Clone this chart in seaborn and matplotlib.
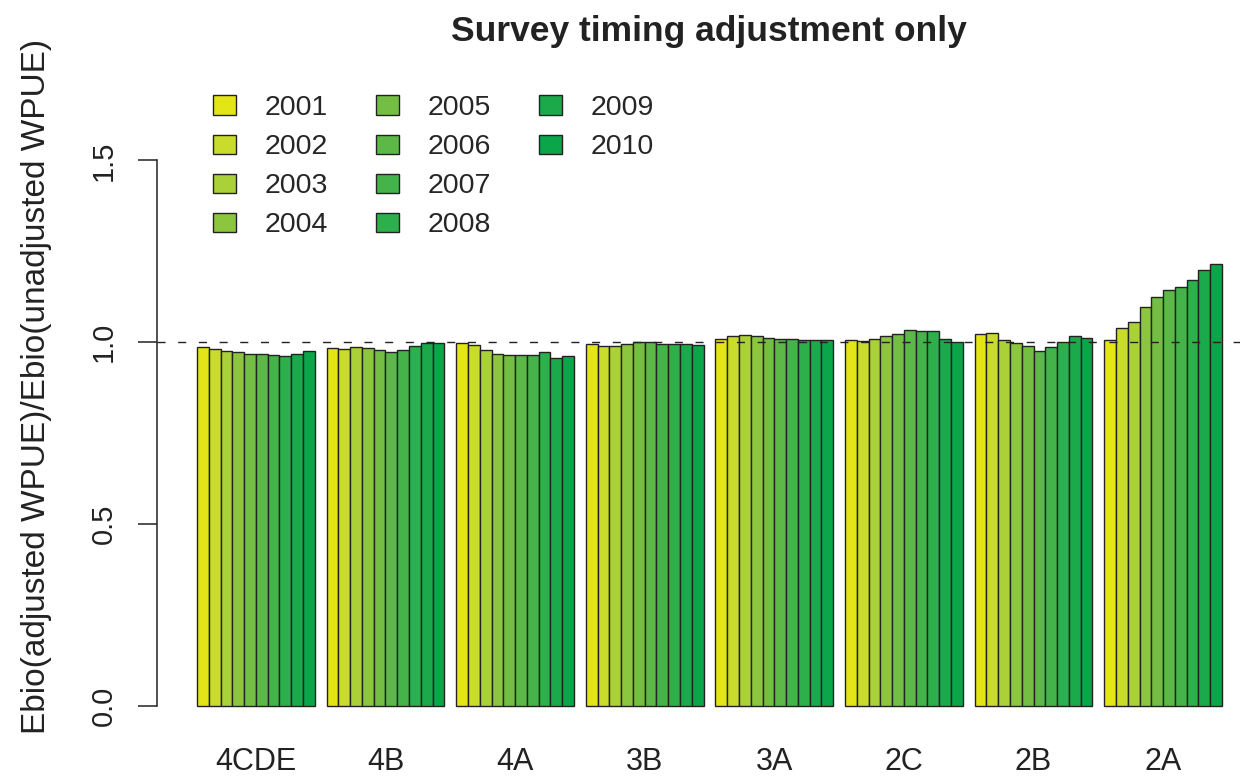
import pandas as pd
import matplotlib
matplotlib.use('Agg')
import matplotlib.pyplot as plt
from matplotlib.patches import Patch
import seaborn as sns

# data
areas = ['4CDE', '4B', '4A', '3B', '3A', '2C', '2B', '2A']
years = ['2001', '2002', '2003', '2004', '2005', '2006', '2007', '2008', '2009', '2010']

r_4cde = [0.988, 0.982, 0.976, 0.972, 0.968, 0.968, 0.964, 0.963, 0.968, 0.975]
r_4b = [0.983, 0.981, 0.986, 0.983, 0.979, 0.973, 0.980, 0.990, 0.997, 0.999]
r_4a = [0.997, 0.992, 0.980, 0.969, 0.966, 0.966, 0.966, 0.974, 0.956, 0.961]
r_3b = [0.994, 0.990, 0.990, 0.996, 1.001, 1.000, 0.996, 0.994, 0.995, 0.992]
r_3a = [1.008, 1.016, 1.020, 1.018, 1.013, 1.010, 1.010, 1.007, 1.005, 1.007]
r_2c = [1.005, 1.003, 1.008, 1.016, 1.023, 1.034, 1.032, 1.030, 1.010, 1.001]
r_2b = [1.024, 1.026, 1.007, 0.998, 0.990, 0.977, 0.987, 1.001, 1.018, 1.012]
r_2a = [1.005, 1.038, 1.056, 1.096, 1.125, 1.145, 1.151, 1.171, 1.200, 1.214]

colors = ['#E4E517', '#C9DB2B', '#AAD137', '#8CC63F', '#74BE44', '#5CB947',
          '#44B44A', '#2DAF4B', '#1BAA4B', '#0BA54A']

rows = []
for area, vals in zip(areas, [r_4cde, r_4b, r_4a, r_3b, r_3a, r_2c, r_2b, r_2a]):
    for yr, v in zip(years, vals):
        rows.append({'area': area, 'year': yr, 'ratio': v})
df = pd.DataFrame(rows)

sns.set_theme(style='white')
plt.rcParams['font.family'] = ['Liberation Sans', 'DejaVu Sans']

W, H = 1243, 779
fig = plt.figure(figsize=(W / 100, H / 100), dpi=100)
left, right, top, bottom = 157, 1240, 44, 729
ax = fig.add_axes([left / W, 1 - bottom / H, (right - left) / W, (bottom - top) / H])

sns.barplot(data=df, x='area', y='ratio', hue='year', order=areas, hue_order=years,
            palette=colors, saturation=1, width=10 / 11, errorbar=None,
            edgecolor='#222222', linewidth=1.0, legend=False, ax=ax)

ax.axhline(1.0, color='#222222', lw=1.0, ls=(0, (5.8, 9.1)), zorder=5)

ax.set_xlim(-0.763, 7.593)
ax.set_ylim(-(bottom - 706) / 364, 1 + (342.5 - top) / 364)

ax.set_yticks([0, 0.5, 1.0, 1.5])
ax.set_yticklabels(['0.0', '0.5', '1.0', '1.5'], rotation=90, va='center')
ax.tick_params(axis='y', left=True, length=14, width=1.1, pad=14, labelsize=21, colors='#222222')
ax.tick_params(axis='x', bottom=False, length=0, pad=13, labelsize=22, colors='#222222')

for s in ['top', 'right', 'bottom']:
    ax.spines[s].set_visible(False)
ax.spines['left'].set_bounds(0, 1.5)
ax.spines['left'].set_color('#222222')
ax.spines['left'].set_linewidth(1.1)

ax.set_xlabel('')
ax.set_ylabel('Ebio(adjusted WPUE)/Ebio(unadjusted WPUE)', fontsize=24, color='#222222')
ax.yaxis.set_label_coords((52 - left) / (right - left), 0.5)

fig.text(709 / W, 1 - 31 / H, 'Survey timing adjustment only', ha='center', va='center',
         fontsize=25.5, fontweight='bold', color='#222222')

# legend: 4 rows, column-major, padded so the third column holds 2 entries
handles = [Patch(facecolor=c, edgecolor='#222222', linewidth=1.0) for c in colors]
labels = list(years)
blank = Patch(facecolor='none', edgecolor='none')
handles += [blank, blank]
labels += ['', '']
fig.legend(handles, labels, ncol=3, loc='upper left',
           bbox_to_anchor=(213 / W, 1 - 95 / H), frameon=False, fontsize=20.5,
           handlelength=0.8, handleheight=0.65, handletextpad=1.0,
           columnspacing=1.7, labelspacing=0.46, borderpad=0, borderaxespad=0)

fig.savefig('out.png', dpi=100)
